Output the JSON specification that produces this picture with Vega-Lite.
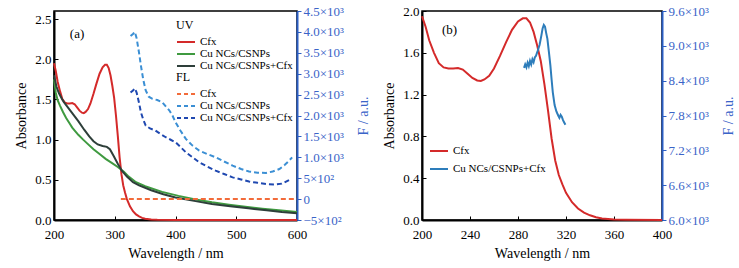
{
"$schema": "https://vega.github.io/schema/vega-lite/v6.json",
"padding": {"left": 14, "top": 4, "right": 5, "bottom": 5},
"spacing": 10,
"config": {
  "font": "Liberation Serif",
  "view": {"stroke": "black", "strokeWidth": 1.5},
  "text": {"font": "Liberation Serif"},
  "axis": {"labelFont": "Liberation Serif", "titleFont": "Liberation Serif", "labelFontSize": 13, "titleFontSize": 14, "titleFontWeight": "normal", "grid": false, "domainWidth": 2, "domainColor": "black", "tickColor": "black", "labelColor": "black", "titleColor": "black", "tickSize": -4, "labelPadding": 7, "titlePadding": 6, "labelOverlap": false, "labelFlush": false},
  "axisX": {"labelPadding": 12, "titlePadding": 5},
  "legend": {"labelFont": "Liberation Serif", "titleFont": "Liberation Serif", "labelFontSize": 11, "titleFontSize": 12, "titleFontWeight": "normal", "symbolType": "stroke", "symbolStrokeWidth": 2, "symbolSize": 324, "labelOffset": 4, "rowPadding": 0, "clipHeight": 12, "titlePadding": 4, "padding": 0, "labelColor": "black", "titleColor": "black"}
},
"datasets": {
  "uv": [
    {"x":200,"y":1.95,"s":"Cfx"},{"x":203,"y":1.85,"s":"Cfx"},{"x":206,"y":1.72,"s":"Cfx"},{"x":210,"y":1.6,"s":"Cfx"},{"x":214,"y":1.5,"s":"Cfx"},{"x":218,"y":1.46,"s":"Cfx"},{"x":222,"y":1.45,"s":"Cfx"},{"x":226,"y":1.45,"s":"Cfx"},{"x":230,"y":1.455,"s":"Cfx"},{"x":234,"y":1.44,"s":"Cfx"},{"x":238,"y":1.4,"s":"Cfx"},{"x":242,"y":1.36,"s":"Cfx"},{"x":246,"y":1.335,"s":"Cfx"},{"x":249,"y":1.33,"s":"Cfx"},{"x":252,"y":1.345,"s":"Cfx"},{"x":256,"y":1.38,"s":"Cfx"},{"x":260,"y":1.45,"s":"Cfx"},{"x":265,"y":1.57,"s":"Cfx"},{"x":270,"y":1.7,"s":"Cfx"},{"x":275,"y":1.82,"s":"Cfx"},{"x":280,"y":1.9,"s":"Cfx"},{"x":284,"y":1.93,"s":"Cfx"},{"x":287,"y":1.93,"s":"Cfx"},{"x":290,"y":1.89,"s":"Cfx"},{"x":293,"y":1.8,"s":"Cfx"},{"x":296,"y":1.67,"s":"Cfx"},{"x":299,"y":1.52,"s":"Cfx"},{"x":302,"y":1.3,"s":"Cfx"},{"x":305,"y":1.05,"s":"Cfx"},{"x":308,"y":0.78,"s":"Cfx"},{"x":311,"y":0.57,"s":"Cfx"},{"x":314,"y":0.43,"s":"Cfx"},{"x":317,"y":0.34,"s":"Cfx"},{"x":320,"y":0.26,"s":"Cfx"},{"x":325,"y":0.17,"s":"Cfx"},{"x":330,"y":0.11,"s":"Cfx"},{"x":335,"y":0.07,"s":"Cfx"},{"x":340,"y":0.045,"s":"Cfx"},{"x":345,"y":0.027,"s":"Cfx"},{"x":350,"y":0.015,"s":"Cfx"},{"x":360,"y":0.005,"s":"Cfx"},{"x":370,"y":0.002,"s":"Cfx"},{"x":400,"y":0,"s":"Cfx"},{"x":500,"y":0,"s":"Cfx"},{"x":600,"y":0,"s":"Cfx"},
    {"x":200,"y":1.75,"s":"Cu NCs/CSNPs"},{"x":203,"y":1.58,"s":"Cu NCs/CSNPs"},{"x":206,"y":1.49,"s":"Cu NCs/CSNPs"},{"x":210,"y":1.42,"s":"Cu NCs/CSNPs"},{"x":215,"y":1.34,"s":"Cu NCs/CSNPs"},{"x":220,"y":1.27,"s":"Cu NCs/CSNPs"},{"x":225,"y":1.21,"s":"Cu NCs/CSNPs"},{"x":230,"y":1.15,"s":"Cu NCs/CSNPs"},{"x":240,"y":1.06,"s":"Cu NCs/CSNPs"},{"x":248,"y":1.0,"s":"Cu NCs/CSNPs"},{"x":255,"y":0.95,"s":"Cu NCs/CSNPs"},{"x":265,"y":0.88,"s":"Cu NCs/CSNPs"},{"x":275,"y":0.82,"s":"Cu NCs/CSNPs"},{"x":285,"y":0.76,"s":"Cu NCs/CSNPs"},{"x":295,"y":0.71,"s":"Cu NCs/CSNPs"},{"x":305,"y":0.66,"s":"Cu NCs/CSNPs"},{"x":315,"y":0.6,"s":"Cu NCs/CSNPs"},{"x":323,"y":0.54,"s":"Cu NCs/CSNPs"},{"x":335,"y":0.47,"s":"Cu NCs/CSNPs"},{"x":350,"y":0.42,"s":"Cu NCs/CSNPs"},{"x":378,"y":0.35,"s":"Cu NCs/CSNPs"},{"x":405,"y":0.3,"s":"Cu NCs/CSNPs"},{"x":433,"y":0.255,"s":"Cu NCs/CSNPs"},{"x":460,"y":0.22,"s":"Cu NCs/CSNPs"},{"x":488,"y":0.19,"s":"Cu NCs/CSNPs"},{"x":515,"y":0.165,"s":"Cu NCs/CSNPs"},{"x":543,"y":0.14,"s":"Cu NCs/CSNPs"},{"x":570,"y":0.12,"s":"Cu NCs/CSNPs"},{"x":600,"y":0.1,"s":"Cu NCs/CSNPs"},
    {"x":200,"y":1.8,"s":"Cu NCs/CSNPs+Cfx"},{"x":204,"y":1.66,"s":"Cu NCs/CSNPs+Cfx"},{"x":208,"y":1.58,"s":"Cu NCs/CSNPs+Cfx"},{"x":212,"y":1.52,"s":"Cu NCs/CSNPs+Cfx"},{"x":216,"y":1.47,"s":"Cu NCs/CSNPs+Cfx"},{"x":220,"y":1.43,"s":"Cu NCs/CSNPs+Cfx"},{"x":225,"y":1.38,"s":"Cu NCs/CSNPs+Cfx"},{"x":230,"y":1.33,"s":"Cu NCs/CSNPs+Cfx"},{"x":240,"y":1.23,"s":"Cu NCs/CSNPs+Cfx"},{"x":250,"y":1.12,"s":"Cu NCs/CSNPs+Cfx"},{"x":258,"y":1.04,"s":"Cu NCs/CSNPs+Cfx"},{"x":265,"y":0.98,"s":"Cu NCs/CSNPs+Cfx"},{"x":272,"y":0.94,"s":"Cu NCs/CSNPs+Cfx"},{"x":280,"y":0.92,"s":"Cu NCs/CSNPs+Cfx"},{"x":287,"y":0.91,"s":"Cu NCs/CSNPs+Cfx"},{"x":292,"y":0.88,"s":"Cu NCs/CSNPs+Cfx"},{"x":298,"y":0.8,"s":"Cu NCs/CSNPs+Cfx"},{"x":305,"y":0.7,"s":"Cu NCs/CSNPs+Cfx"},{"x":312,"y":0.61,"s":"Cu NCs/CSNPs+Cfx"},{"x":320,"y":0.54,"s":"Cu NCs/CSNPs+Cfx"},{"x":330,"y":0.47,"s":"Cu NCs/CSNPs+Cfx"},{"x":340,"y":0.43,"s":"Cu NCs/CSNPs+Cfx"},{"x":360,"y":0.37,"s":"Cu NCs/CSNPs+Cfx"},{"x":380,"y":0.32,"s":"Cu NCs/CSNPs+Cfx"},{"x":400,"y":0.28,"s":"Cu NCs/CSNPs+Cfx"},{"x":433,"y":0.235,"s":"Cu NCs/CSNPs+Cfx"},{"x":460,"y":0.2,"s":"Cu NCs/CSNPs+Cfx"},{"x":490,"y":0.17,"s":"Cu NCs/CSNPs+Cfx"},{"x":520,"y":0.145,"s":"Cu NCs/CSNPs+Cfx"},{"x":550,"y":0.12,"s":"Cu NCs/CSNPs+Cfx"},{"x":575,"y":0.1,"s":"Cu NCs/CSNPs+Cfx"},{"x":600,"y":0.085,"s":"Cu NCs/CSNPs+Cfx"}
  ],
  "fl": [
    {"x":310,"y":0,"s":"Cfx"},{"x":600,"y":0,"s":"Cfx"},
    {"x":326,"y":3900,"s":"Cu NCs/CSNPs"},{"x":330,"y":3950,"s":"Cu NCs/CSNPs"},{"x":333,"y":4000,"s":"Cu NCs/CSNPs"},{"x":336,"y":3850,"s":"Cu NCs/CSNPs"},{"x":340,"y":3500,"s":"Cu NCs/CSNPs"},{"x":343,"y":3200,"s":"Cu NCs/CSNPs"},{"x":347,"y":2850,"s":"Cu NCs/CSNPs"},{"x":351,"y":2600,"s":"Cu NCs/CSNPs"},{"x":356,"y":2450,"s":"Cu NCs/CSNPs"},{"x":362,"y":2400,"s":"Cu NCs/CSNPs"},{"x":370,"y":2370,"s":"Cu NCs/CSNPs"},{"x":378,"y":2320,"s":"Cu NCs/CSNPs"},{"x":385,"y":2200,"s":"Cu NCs/CSNPs"},{"x":390,"y":2120,"s":"Cu NCs/CSNPs"},{"x":395,"y":2000,"s":"Cu NCs/CSNPs"},{"x":400,"y":1840,"s":"Cu NCs/CSNPs"},{"x":408,"y":1640,"s":"Cu NCs/CSNPs"},{"x":417,"y":1440,"s":"Cu NCs/CSNPs"},{"x":428,"y":1280,"s":"Cu NCs/CSNPs"},{"x":439,"y":1160,"s":"Cu NCs/CSNPs"},{"x":452,"y":1080,"s":"Cu NCs/CSNPs"},{"x":466,"y":1000,"s":"Cu NCs/CSNPs"},{"x":480,"y":900,"s":"Cu NCs/CSNPs"},{"x":494,"y":800,"s":"Cu NCs/CSNPs"},{"x":508,"y":720,"s":"Cu NCs/CSNPs"},{"x":521,"y":660,"s":"Cu NCs/CSNPs"},{"x":535,"y":630,"s":"Cu NCs/CSNPs"},{"x":549,"y":626,"s":"Cu NCs/CSNPs"},{"x":560,"y":660,"s":"Cu NCs/CSNPs"},{"x":571,"y":720,"s":"Cu NCs/CSNPs"},{"x":580,"y":820,"s":"Cu NCs/CSNPs"},{"x":587,"y":920,"s":"Cu NCs/CSNPs"},{"x":592,"y":1000,"s":"Cu NCs/CSNPs"},
    {"x":326,"y":2550,"s":"Cu NCs/CSNPs+Cfx"},{"x":330,"y":2600,"s":"Cu NCs/CSNPs+Cfx"},{"x":333,"y":2650,"s":"Cu NCs/CSNPs+Cfx"},{"x":336,"y":2550,"s":"Cu NCs/CSNPs+Cfx"},{"x":340,"y":2300,"s":"Cu NCs/CSNPs+Cfx"},{"x":343,"y":2080,"s":"Cu NCs/CSNPs+Cfx"},{"x":347,"y":1900,"s":"Cu NCs/CSNPs+Cfx"},{"x":351,"y":1760,"s":"Cu NCs/CSNPs+Cfx"},{"x":358,"y":1690,"s":"Cu NCs/CSNPs+Cfx"},{"x":367,"y":1640,"s":"Cu NCs/CSNPs+Cfx"},{"x":375,"y":1560,"s":"Cu NCs/CSNPs+Cfx"},{"x":384,"y":1480,"s":"Cu NCs/CSNPs+Cfx"},{"x":392,"y":1420,"s":"Cu NCs/CSNPs+Cfx"},{"x":400,"y":1360,"s":"Cu NCs/CSNPs+Cfx"},{"x":408,"y":1250,"s":"Cu NCs/CSNPs+Cfx"},{"x":417,"y":1120,"s":"Cu NCs/CSNPs+Cfx"},{"x":428,"y":1000,"s":"Cu NCs/CSNPs+Cfx"},{"x":439,"y":880,"s":"Cu NCs/CSNPs+Cfx"},{"x":452,"y":780,"s":"Cu NCs/CSNPs+Cfx"},{"x":466,"y":680,"s":"Cu NCs/CSNPs+Cfx"},{"x":480,"y":600,"s":"Cu NCs/CSNPs+Cfx"},{"x":494,"y":520,"s":"Cu NCs/CSNPs+Cfx"},{"x":508,"y":470,"s":"Cu NCs/CSNPs+Cfx"},{"x":521,"y":420,"s":"Cu NCs/CSNPs+Cfx"},{"x":535,"y":390,"s":"Cu NCs/CSNPs+Cfx"},{"x":549,"y":360,"s":"Cu NCs/CSNPs+Cfx"},{"x":565,"y":350,"s":"Cu NCs/CSNPs+Cfx"},{"x":575,"y":370,"s":"Cu NCs/CSNPs+Cfx"},{"x":582,"y":420,"s":"Cu NCs/CSNPs+Cfx"},{"x":590,"y":480,"s":"Cu NCs/CSNPs+Cfx"}
  ],
  "flb": [
    {"x":285,"y":8620,"s":"Cu NCs/CSNPs+Cfx"},{"x":286,"y":8680,"s":"Cu NCs/CSNPs+Cfx"},{"x":287,"y":8630,"s":"Cu NCs/CSNPs+Cfx"},{"x":288,"y":8710,"s":"Cu NCs/CSNPs+Cfx"},{"x":289,"y":8650,"s":"Cu NCs/CSNPs+Cfx"},{"x":290,"y":8740,"s":"Cu NCs/CSNPs+Cfx"},{"x":291,"y":8680,"s":"Cu NCs/CSNPs+Cfx"},{"x":292,"y":8770,"s":"Cu NCs/CSNPs+Cfx"},{"x":293,"y":8720,"s":"Cu NCs/CSNPs+Cfx"},{"x":294,"y":8800,"s":"Cu NCs/CSNPs+Cfx"},{"x":295,"y":8830,"s":"Cu NCs/CSNPs+Cfx"},{"x":296.5,"y":8920,"s":"Cu NCs/CSNPs+Cfx"},{"x":298,"y":9020,"s":"Cu NCs/CSNPs+Cfx"},{"x":299.5,"y":9180,"s":"Cu NCs/CSNPs+Cfx"},{"x":300.5,"y":9300,"s":"Cu NCs/CSNPs+Cfx"},{"x":301.5,"y":9360,"s":"Cu NCs/CSNPs+Cfx"},{"x":302.5,"y":9330,"s":"Cu NCs/CSNPs+Cfx"},{"x":303.5,"y":9220,"s":"Cu NCs/CSNPs+Cfx"},{"x":304.5,"y":9120,"s":"Cu NCs/CSNPs+Cfx"},{"x":306,"y":8850,"s":"Cu NCs/CSNPs+Cfx"},{"x":307,"y":8660,"s":"Cu NCs/CSNPs+Cfx"},{"x":308,"y":8420,"s":"Cu NCs/CSNPs+Cfx"},{"x":309,"y":8200,"s":"Cu NCs/CSNPs+Cfx"},{"x":310.5,"y":7980,"s":"Cu NCs/CSNPs+Cfx"},{"x":312,"y":7870,"s":"Cu NCs/CSNPs+Cfx"},{"x":313.5,"y":7800,"s":"Cu NCs/CSNPs+Cfx"},{"x":314.5,"y":7760,"s":"Cu NCs/CSNPs+Cfx"},{"x":315.5,"y":7810,"s":"Cu NCs/CSNPs+Cfx"},{"x":316.5,"y":7780,"s":"Cu NCs/CSNPs+Cfx"},{"x":317.5,"y":7720,"s":"Cu NCs/CSNPs+Cfx"},{"x":318.5,"y":7680,"s":"Cu NCs/CSNPs+Cfx"},{"x":319.5,"y":7640,"s":"Cu NCs/CSNPs+Cfx"}
  ]
},
"hconcat": [
  {
    "width": 243, "height": 209,
    "layer": [
      {"layer": [
        {"data": {"name": "uv"},
         "mark": {"type": "line", "strokeWidth": 2},
         "encoding": {
           "x": {"field": "x", "type": "quantitative", "title": "Wavelength / nm", "scale": {"domain": [200, 600]},
                 "axis": {"values": [200,225,250,275,300,325,350,375,400,425,450,475,500,525,550,575,600], "labelExpr": "datum.value % 50 == 0 ? datum.label : ''"}},
           "y": {"field": "y", "type": "quantitative", "title": "Absorbance", "scale": {"domain": [0, 2.5]},
                 "axis": {"values": [0,0.25,0.5,0.75,1,1.25,1.5,1.75,2,2.25,2.5], "labelExpr": "datum.value % 0.5 == 0 ? format(datum.value, '.1f') : ''"}},
           "color": {"field": "s", "type": "nominal",
                     "scale": {"domain": ["Cfx", "Cu NCs/CSNPs", "Cu NCs/CSNPs+Cfx"], "range": ["#d42a2a", "#3f9a40", "#2e3f3a"]},
                     "legend": {"title": "UV", "orient": "none", "legendX": 122, "legendY": 9}}
         }},
        {"data": {"values": [{"x": 238, "y": 2.31, "t": "(a)"}]},
         "mark": {"type": "text", "fontSize": 13, "baseline": "middle"},
         "encoding": {"x": {"field": "x", "type": "quantitative"}, "y": {"field": "y", "type": "quantitative"}, "text": {"field": "t"}}}
      ]},
      {"data": {"name": "fl"},
       "mark": {"type": "line", "strokeWidth": 2, "strokeDash": [5, 3]},
       "encoding": {
         "x": {"field": "x", "type": "quantitative"},
         "y": {"field": "y", "type": "quantitative", "title": "F / a.u.", "scale": {"domain": [-500, 4500]},
               "axis": {"orient": "right", "values": [-500,0,500,1000,1500,2000,2500,3000,3500,4000,4500], "tickSize": 4, "labelPadding": 2, "domainColor": "#2b5ec4", "tickColor": "#2b5ec4", "labelColor": "#3a64c8", "titleColor": "#3a64c8", "titleAngle": 270, "titleBaseline": "top", "titlePadding": 13,
                        "labelExpr": "datum.value == 0 ? '0' : (datum.value == 500 ? '5×10²' : (datum.value == -500 ? '−5×10²' : format(datum.value/1000, '.1f') + '×10³'))"}},
         "color": {"field": "s", "type": "nominal",
                   "scale": {"domain": ["Cfx", "Cu NCs/CSNPs", "Cu NCs/CSNPs+Cfx"], "range": ["#f26b3a", "#3b8fd4", "#1f48b0"]},
                   "legend": {"title": "FL", "orient": "none", "legendX": 122, "legendY": 61, "symbolDash": [4, 3]}}
       }}
    ],
    "resolve": {"scale": {"y": "independent", "color": "independent"}}
  },
  {
    "width": 240, "height": 209,
    "layer": [
      {"layer": [
        {"data": {"name": "uv"},
         "transform": [{"filter": "datum.s == 'Cfx' && datum.x <= 400"}],
         "mark": {"type": "line", "strokeWidth": 2},
         "encoding": {
           "x": {"field": "x", "type": "quantitative", "title": "Wavelength / nm", "scale": {"domain": [200, 400]},
                 "axis": {"values": [200,220,240,260,280,300,320,340,360,380,400], "labelExpr": "datum.value % 40 == 0 ? datum.label : ''"}},
           "y": {"field": "y", "type": "quantitative", "title": "Absorbance", "scale": {"domain": [0, 2.0]},
                 "axis": {"values": [0,0.2,0.4,0.6,0.8,1.0,1.2,1.4,1.6,1.8,2.0], "labelExpr": "round(datum.value*10) % 4 == 0 ? format(datum.value, '.1f') : ''"}},
           "color": {"field": "s", "type": "nominal",
                     "scale": {"domain": ["Cfx", "Cu NCs/CSNPs+Cfx"], "range": ["#d42a2a", "#2d7dbb"]},
                     "legend": {"title": null, "orient": "none", "legendX": 375, "legendY": 134, "rowPadding": 6}}
         }},
        {"data": {"values": [{"x": 223, "y": 1.82, "t": "(b)"}]},
         "mark": {"type": "text", "fontSize": 13, "baseline": "middle"},
         "encoding": {"x": {"field": "x", "type": "quantitative"}, "y": {"field": "y", "type": "quantitative"}, "text": {"field": "t"}}}
      ]},
      {"data": {"name": "flb"},
       "mark": {"type": "line", "strokeWidth": 2},
       "encoding": {
         "x": {"field": "x", "type": "quantitative"},
         "y": {"field": "y", "type": "quantitative", "title": "F / a.u.", "scale": {"domain": [6000, 9600]},
               "axis": {"orient": "right", "values": [6000,6600,7200,7800,8400,9000,9600], "tickSize": 4, "labelPadding": 2, "domainColor": "#2b5ec4", "tickColor": "#2b5ec4", "labelColor": "#3a64c8", "titleColor": "#3a64c8", "titleAngle": 270, "titleBaseline": "top", "titlePadding": 13,
                        "labelExpr": "format(datum.value/1000, '.1f') + '×10³'"}},
         "color": {"field": "s", "type": "nominal", "legend": null}
       }}
    ],
    "resolve": {"scale": {"y": "independent"}}
  }
]
}
